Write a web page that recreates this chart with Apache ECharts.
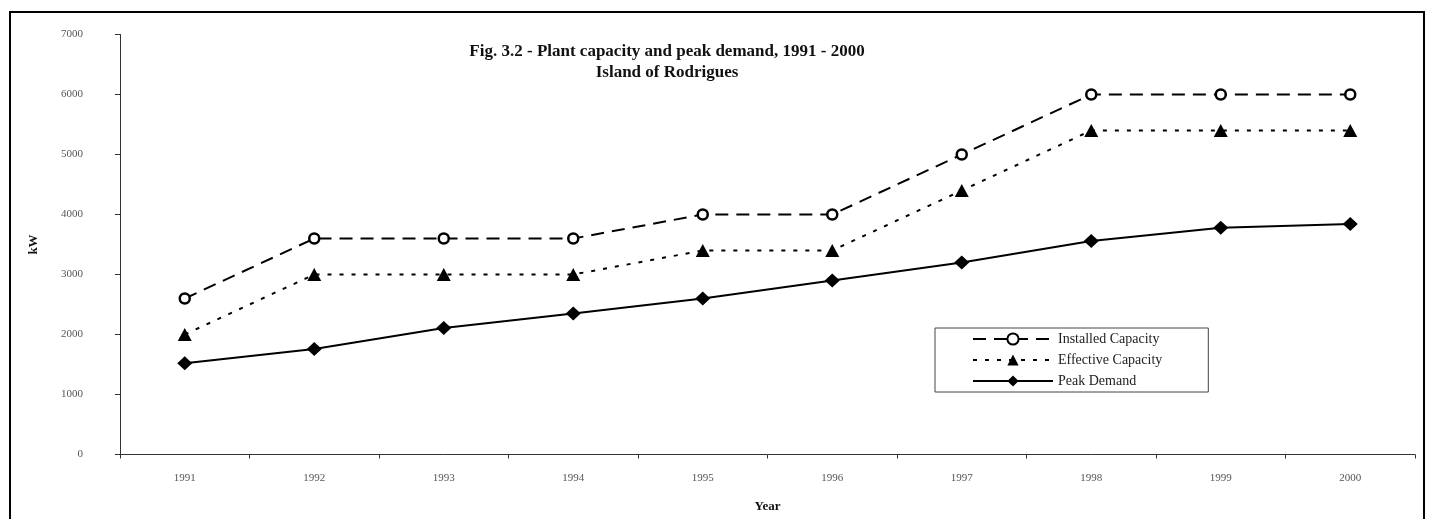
<!DOCTYPE html>
<html>
<head>
<meta charset="utf-8">
<script src="https://cdn.jsdelivr.net/npm/echarts@6/dist/echarts.min.js"></script>
<style>html,body{margin:0;padding:0;background:#fff;}#c{width:1431px;height:519px;}</style>
</head>
<body>
<div id="c"></div>
<script>
const years = ['1991','1992','1993','1994','1995','1996','1997','1998','1999','2000'];
const installedCapacity = [2600, 3600, 3600, 3600, 4000, 4000, 5000, 6000, 6000, 6000];
const effectiveCapacity = [2000, 3000, 3000, 3000, 3400, 3400, 4400, 5400, 5400, 5400];
const peakDemand = [1520, 1760, 2110, 2350, 2600, 2900, 3200, 3560, 3780, 3840];
const titleText = 'Fig. 3.2 - Plant capacity and peak demand, 1991 - 2000';
const subtitleText = 'Island of Rodrigues';

const serif = 'Liberation Serif';
const chart = echarts.init(document.getElementById('c'), null, {renderer: 'canvas'});
chart.setOption({
  backgroundColor: '#fff',
  animation: false,
  title: {
    text: titleText,
    subtext: subtitleText,
    left: 662,
    top: 38,
    textAlign: 'center',
    itemGap: 4,
    textStyle: {fontFamily: serif, fontWeight: 'bold', fontSize: 17, color: '#111'},
    subtextStyle: {fontFamily: serif, fontWeight: 'bold', fontSize: 17, color: '#111'}
  },
  graphic: [{
    type: 'rect',
    shape: {x: 10, y: 12, width: 1414, height: 530},
    style: {fill: 'none', stroke: '#000', lineWidth: 2},
    silent: true
  }],
  legend: {
    orient: 'vertical',
    left: 935,
    top: 328,
    padding: [4, 46, 4, 37],
    itemWidth: 80,
    itemHeight: 14,
    itemGap: 7,
    borderColor: '#444',
    borderWidth: 1,
    textStyle: {fontFamily: serif, fontSize: 14, color: '#222'},
    data: ['Installed Capacity', 'Effective Capacity', 'Peak Demand']
  },
  grid: {left: 120, right: 16, top: 34.5, bottom: 519 - 454.5},
  xAxis: {
    type: 'category',
    data: years,
    boundaryGap: true,
    name: 'Year',
    nameLocation: 'middle',
    nameGap: 46,
    nameTextStyle: {fontFamily: serif, fontWeight: 'bold', fontSize: 13, color: '#111'},
    axisLine: {lineStyle: {color: '#333', width: 1}},
    axisTick: {show: true, length: 4, lineStyle: {color: '#333'}},
    axisLabel: {fontFamily: serif, fontSize: 11, color: '#555', margin: 18},
    splitLine: {show: false}
  },
  yAxis: {
    type: 'value',
    min: 0,
    max: 7000,
    interval: 1000,
    name: 'kW',
    nameLocation: 'middle',
    nameGap: 80,
    nameRotate: 90,
    nameTextStyle: {fontFamily: serif, fontWeight: 'bold', fontSize: 13, color: '#111'},
    axisLine: {show: true, lineStyle: {color: '#333', width: 1}},
    axisTick: {show: true, length: 5, lineStyle: {color: '#333'}},
    axisLabel: {fontFamily: serif, fontSize: 11, color: '#555', margin: 37, formatter: v => String(v)},
    splitLine: {show: false}
  },
  series: [
    {
      name: 'Installed Capacity',
      type: 'line',
      data: installedCapacity,
      symbol: 'circle',
      symbolSize: 10,
      showAllSymbol: true,
      lineStyle: {color: '#000', width: 2, type: [13, 8]},
      itemStyle: {color: '#fff', borderColor: '#000', borderWidth: 2.5},
      z: 3
    },
    {
      name: 'Effective Capacity',
      type: 'line',
      data: effectiveCapacity,
      symbol: 'triangle',
      symbolSize: [14, 13],
      lineStyle: {color: '#000', width: 2, type: [4, 8]},
      itemStyle: {color: '#000', borderColor: '#000', borderWidth: 0},
      z: 3
    },
    {
      name: 'Peak Demand',
      type: 'line',
      data: peakDemand,
      symbol: 'diamond',
      symbolSize: [15, 14],
      lineStyle: {color: '#000', width: 2, type: 'solid'},
      itemStyle: {color: '#000', borderColor: '#000', borderWidth: 0},
      z: 3
    }
  ]
});
</script>
</body>
</html>
